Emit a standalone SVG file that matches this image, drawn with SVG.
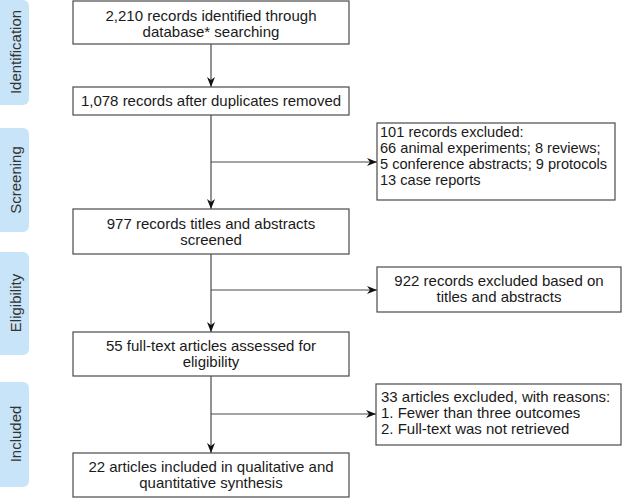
<svg xmlns="http://www.w3.org/2000/svg" width="622" height="498" viewBox="0 0 622 498">
<style>
.box{fill:#fff;stroke:#4a4a4a;stroke-width:1.2}
.tab{fill:#c8e4f8}
.t{font-family:"Liberation Sans",Arial,sans-serif;font-size:15px;fill:#1a1a1a}
.s{font-size:14.6px}
.c{text-anchor:middle}
.tl{font-family:"Liberation Sans",Arial,sans-serif;font-size:15px;fill:#333;text-anchor:middle}
.ln{stroke:#4a4a4a;stroke-width:1.2;fill:none}
</style>
<defs>
<marker id="ah" markerWidth="10" markerHeight="8" refX="10" refY="4" orient="auto" markerUnits="userSpaceOnUse">
<path d="M0,0 L10,4 L0,8 L3,4 Z" fill="#111"/>
</marker>
</defs>
<g id="tab-identification"><rect class="tab" x="-6" y="0" width="35" height="105" rx="6"/><text class="tl" transform="translate(21,52) rotate(-90)">Identification</text></g>
<g id="tab-screening"><rect class="tab" x="-6" y="128" width="35" height="104" rx="6"/><text class="tl" transform="translate(21,180) rotate(-90)">Screening</text></g>
<g id="tab-eligibility"><rect class="tab" x="-6" y="252" width="35" height="103" rx="6"/><text class="tl" transform="translate(21,303) rotate(-90)">Eligibility</text></g>
<g id="tab-included"><rect class="tab" x="-6" y="382" width="35" height="105" rx="6"/><text class="tl" transform="translate(21,434) rotate(-90)">Included</text></g>

<g id="connectors">
<line class="ln" x1="211" y1="44" x2="211" y2="87" marker-end="url(#ah)"/>
<line class="ln" x1="211" y1="115" x2="211" y2="209" marker-end="url(#ah)"/>
<line class="ln" x1="211" y1="162" x2="377" y2="162" marker-end="url(#ah)"/>
<line class="ln" x1="211" y1="254" x2="211" y2="332" marker-end="url(#ah)"/>
<line class="ln" x1="211" y1="290" x2="377" y2="290" marker-end="url(#ah)"/>
<line class="ln" x1="211" y1="376" x2="211" y2="453" marker-end="url(#ah)"/>
<line class="ln" x1="211" y1="414" x2="376" y2="414" marker-end="url(#ah)"/>
</g>

<g id="n1"><rect class="box" x="73" y="1" width="276" height="43"/><text class="t c" x="211" y="21">2,210 records identified through</text><text class="t c" x="211" y="37">database* searching</text></g>
<g id="n2"><rect class="box" x="73" y="87" width="276" height="28"/><text class="t c" x="211" y="106">1,078 records after duplicates removed</text></g>
<g id="n3"><rect class="box" x="377" y="123" width="238" height="77"/><text class="t s" x="380" y="137">101 records excluded:</text><text class="t s" x="380" y="153">66 animal experiments; 8 reviews;</text><text class="t s" x="380" y="169">5 conference abstracts; 9 protocols</text><text class="t s" x="380" y="185">13 case reports</text></g>
<g id="n4"><rect class="box" x="73" y="209" width="276" height="45"/><text class="t c" x="211" y="229">977 records titles and abstracts</text><text class="t c" x="211" y="245">screened</text></g>
<g id="n5"><rect class="box" x="377" y="267" width="244" height="45"/><text class="t c" x="499" y="286">922 records excluded based on</text><text class="t c" x="499" y="302">titles and abstracts</text></g>
<g id="n6"><rect class="box" x="73" y="332" width="276" height="44"/><text class="t c" x="211" y="351">55 full-text articles assessed for</text><text class="t c" x="211" y="367">eligibility</text></g>
<g id="n7"><rect class="box" x="376" y="384" width="245" height="61"/><text class="t" x="381" y="402">33 articles excluded, with reasons:</text><text class="t" x="381" y="418">1. Fewer than three outcomes</text><text class="t" x="381" y="434">2. Full-text was not retrieved</text></g>
<g id="n8"><rect class="box" x="73" y="453" width="276" height="44"/><text class="t c" x="211" y="472">22 articles included in qualitative and</text><text class="t c" x="211" y="488">quantitative synthesis</text></g>
</svg>
